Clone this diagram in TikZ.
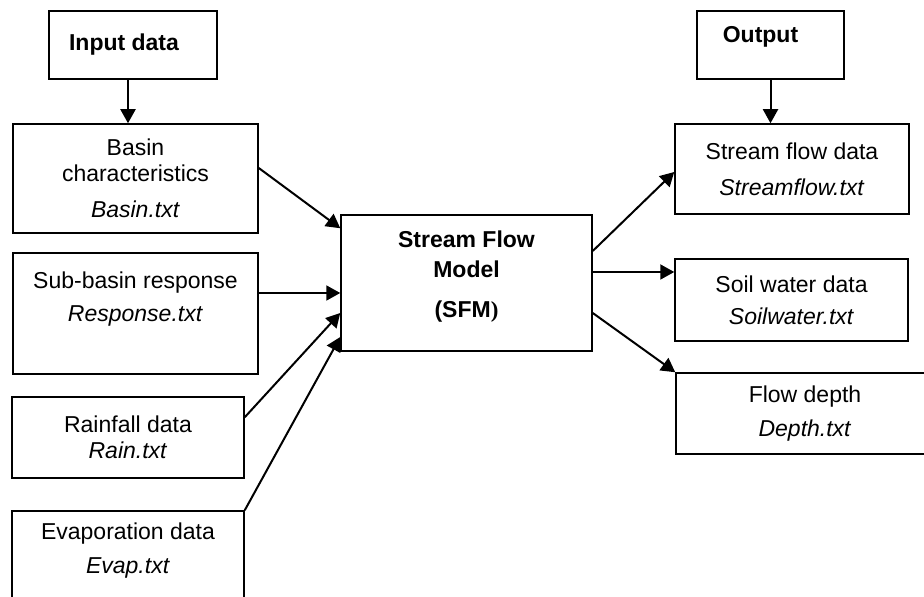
\documentclass[tikz,border=0pt]{standalone}
\usepackage{fontspec}
\setmainfont{Liberation Sans}
\newfontfamily\parenfont{Liberation Serif}
\usetikzlibrary{arrows.meta}
\tikzset{
	box/.style={draw,line width=0.75pt,inner sep=0pt,align=center,
		font=\fontsize{11.5pt}{13pt}\selectfont},
	headbox/.style={box,font=\fontsize{11.5pt}{13pt}\selectfont\bfseries},
	flowarrow/.style={line width=1pt,-{Triangle[length=7pt,width=7.5pt]}}
}
\begin{document}
	\begin{tikzpicture}[x=0.5pt,y=-0.5pt]
		\useasboundingbox (0,0) rectangle (924,597);
		\clip (0,0) rectangle (924,597);
		% inputs
		\node[headbox,minimum width=84pt,minimum height=34pt] (inp) at (133,45)
			{Input data\hspace*{9pt}};
		\node[box,minimum width=122.5pt,minimum height=54.5pt] (basin) at (135.5,178.5)
			{Basin\\characteristics\\[5pt]\textit{Basin.txt}};
		\node[box,minimum width=122.5pt,minimum height=60.5pt] (sub) at (135.5,313.5)
			{Sub-basin response\\[3.5pt]\textit{Response.txt}\\[3.5pt]\mbox{}};
		\node[box,minimum width=116pt,minimum height=40.5pt] (rain) at (128,437.5)
			{Rainfall data\\\textit{Rain.txt}};
		\node[box,minimum width=116pt,minimum height=54.5pt] (evap) at (128,565.5)
			{Evaporation data\\[4pt]\textit{Evap.txt}\\[4pt]\mbox{}};
		% model
		\node[headbox,minimum width=125.5pt,minimum height=68pt] (sfm) at (466.5,283)
			{Stream Flow\\[2pt]Model\\[7pt](SFM{\parenfont\bfseries)}\\[-4pt]\mbox{}};
		% outputs
		\node[headbox,minimum width=73.5pt,minimum height=34pt] (out) at (770.5,45)
			{Output\hspace*{10pt}\\[-2pt]\mbox{}};
		\node[box,minimum width=117pt,minimum height=45pt] (flow) at (792,169)
			{Stream flow data\\[5pt]\textit{Streamflow.txt}};
		\node[box,minimum width=116.5pt,minimum height=41pt] (soil) at (791.5,300)
			{Soil water data\\[3pt]\textit{Soilwater.txt}};
		\node[box,minimum width=129pt,minimum height=40.5pt] (depth) at (805,413.5)
			{Flow depth\\[4pt]\textit{Depth.txt}};
		% connectors
		\draw[flowarrow] ([xshift=-2.5pt]inp.south) -- ([xshift=-2.5pt]inp.south |- basin.north);
		\draw[flowarrow] (out.south) -- (out.south |- flow.north);
		\draw[flowarrow] ([yshift=5.25pt]basin.east) -- ([yshift=-7pt]sfm.north west);
		\draw[flowarrow] ([yshift=10.25pt]sub.east) -- ([yshift=10.25pt]sub.east -| sfm.west);
		\draw[flowarrow] ([yshift=-10.5pt]rain.north east) -- ([yshift=-15pt]sfm.west);
		\draw[flowarrow] (evap.north east) -- ([yshift=-27pt]sfm.west);
		\draw[flowarrow] ([yshift=16pt]sfm.east) -- ([yshift=-1.5pt]flow.west);
		\draw[flowarrow] ([yshift=5.5pt]sfm.east) -- ([yshift=5.5pt]sfm.east -| soil.west);
		\draw[flowarrow] ([yshift=-15pt]sfm.east) -- (depth.north west);
	\end{tikzpicture}
\end{document}
